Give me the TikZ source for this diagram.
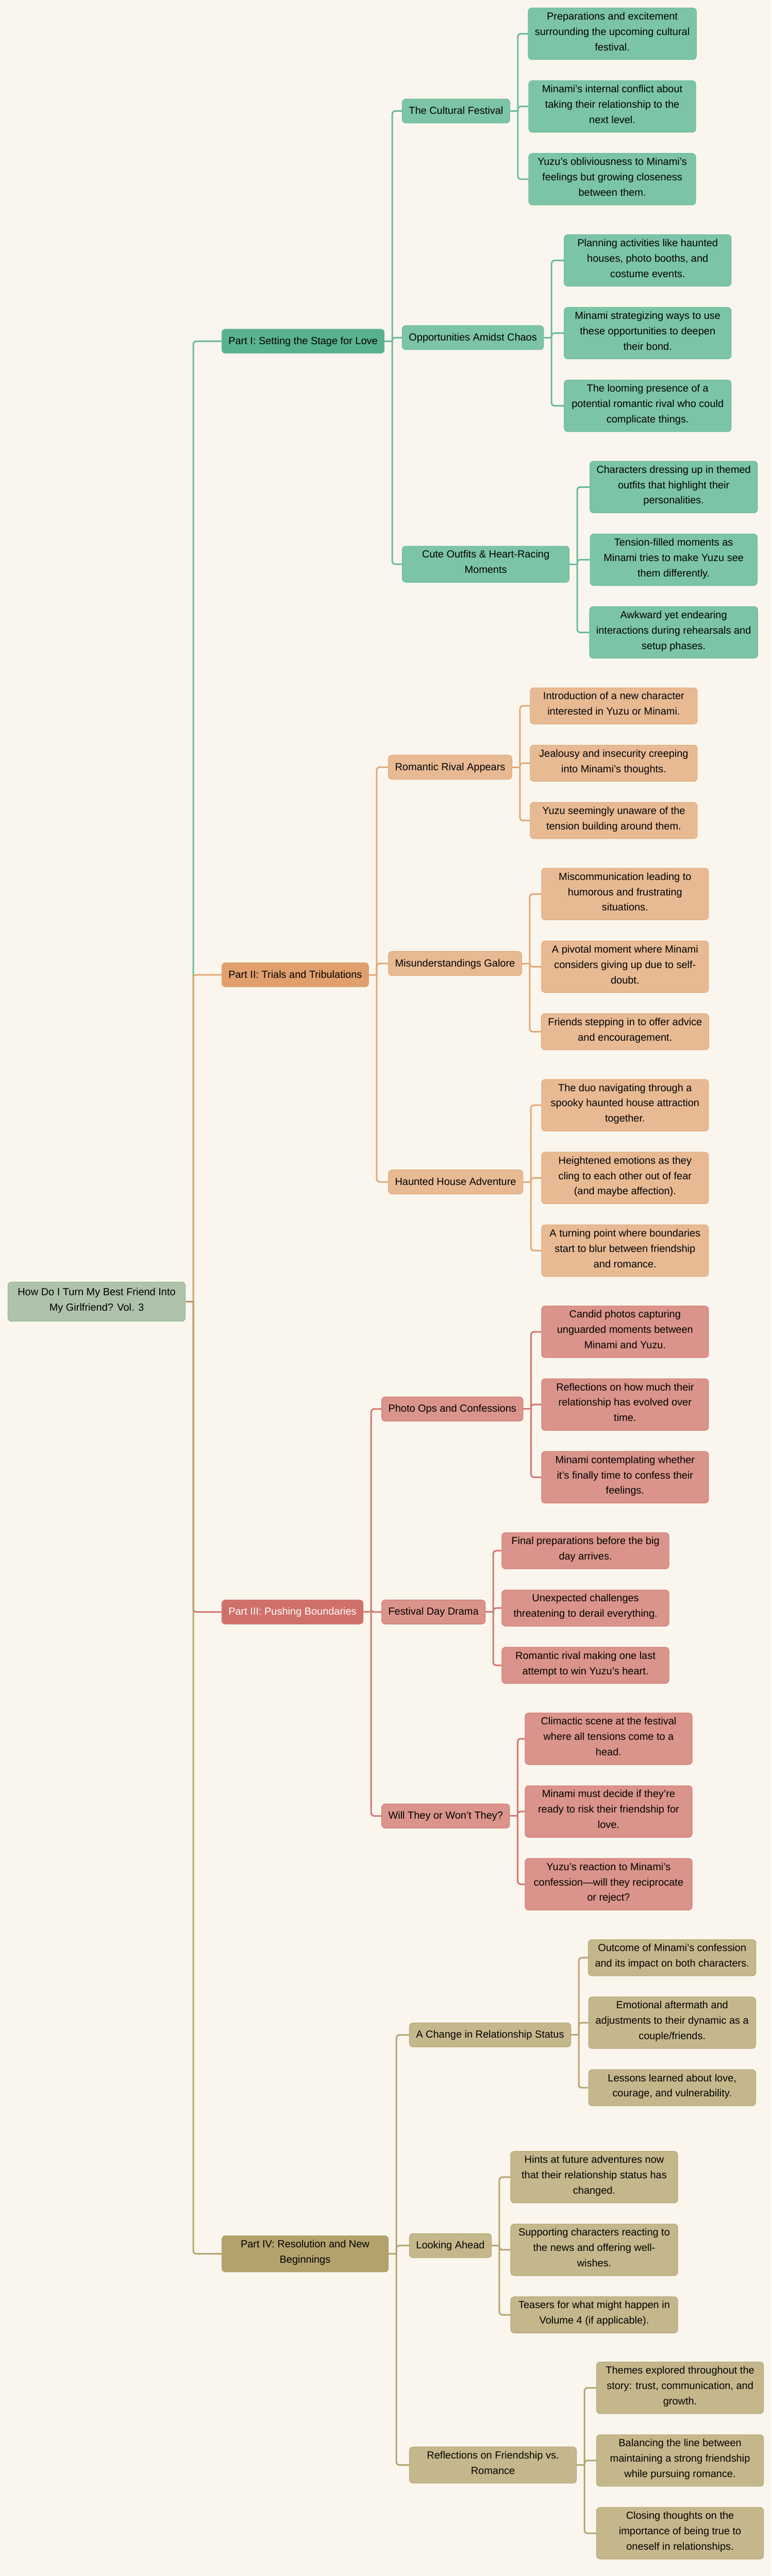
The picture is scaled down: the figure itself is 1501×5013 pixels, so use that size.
\documentclass[tikz,border=0pt]{standalone}
\usepackage{fontspec}
\setmainfont{Liberation Sans}
\usepackage{tikz}
\usetikzlibrary{positioning}
\usepackage{xcolor}

\definecolor{paper}{HTML}{FAF6EE}
\definecolor{rootFill}{HTML}{ADC3AA}
\definecolor{rootEdge}{HTML}{98B594}
\definecolor{rootLink}{HTML}{B8925F}
\definecolor{greenDark}{HTML}{58B28E}
\definecolor{greenLight}{HTML}{7CC4A7}
\definecolor{greenLine}{HTML}{6ABB97}
\definecolor{orangeDark}{HTML}{E09F6C}
\definecolor{orangeLight}{HTML}{E7BA94}
\definecolor{orangeLine}{HTML}{E3A875}
\definecolor{redDark}{HTML}{D0706A}
\definecolor{redLight}{HTML}{DA948B}
\definecolor{redLine}{HTML}{D4766F}
\definecolor{goldDark}{HTML}{B3A26C}
\definecolor{goldLight}{HTML}{C5B78C}
\definecolor{goldLine}{HTML}{B5A46F}

\begin{document}
\begin{tikzpicture}[
  x=0.5pt, y=-0.5pt,
  every node/.style={font=\fontsize{10}{15}\selectfont, align=center, rounded corners=3.5pt,
    inner xsep=6.5pt, inner ysep=4.25pt, line width=0.5pt,
    execute at begin node=\strut, execute at end node=\strut},
  root/.style={anchor=west, draw=rootEdge, fill=rootFill, minimum width=172.5pt, inner ysep=5.75pt},
  part/.style={anchor=west, draw=#1Line, fill=#1Dark},
  topic/.style={anchor=west, draw=#1Line, fill=#1Light},
  leaf/.style={draw=#1Line, fill=#1Light, minimum width=162.5pt},
  link/.style={draw=#1, line width=1.5pt, rounded corners=3pt}
  ]

\fill[paper] (0,0) rectangle (1501,5013);
\useasboundingbox (0,0) rectangle (1501,5013);

\node[root] (root) at (15,2533) {How Do I Turn My Best Friend Into\\My Girlfriend? Vol. 3};

% Part I
\node[part=green] (p1) at (431,664) {Part I: Setting the Stage for Love};
\node[topic=green] (cf) at (782,216) {The Cultural Festival};
\node[topic=green] (oc) at (782,657) {Opportunities Amidst Chaos};
\node[topic=green, minimum width=162.5pt] (co) at (782,1098) {Cute Outfits \& Heart-Racing\\Moments};

\node[leaf=green, anchor=north west] (cf1) at (1027,15) {Preparations and excitement\\surrounding the upcoming cultural\\festival.};
\node[leaf=green, below=20pt of cf1] (cf2) {Minami's internal conflict about\\taking their relationship to the\\next level.};
\node[leaf=green, below=20pt of cf2] (cf3) {Yuzu's obliviousness to Minami's\\feelings but growing closeness\\between them.};

\node[leaf=green, anchor=north west] (oc1) at (1097,456) {Planning activities like haunted\\houses, photo booths, and\\costume events.};
\node[leaf=green, below=20pt of oc1] (oc2) {Minami strategizing ways to use\\these opportunities to deepen\\their bond.};
\node[leaf=green, below=20pt of oc2] (oc3) {The looming presence of a\\potential romantic rival who could\\complicate things.};

\node[leaf=green, anchor=north west] (co1) at (1147,897) {Characters dressing up in themed\\outfits that highlight their\\personalities.};
\node[leaf=green, below=20pt of co1] (co2) {Tension-filled moments as\\Minami tries to make Yuzu see\\them differently.};
\node[leaf=green, below=20pt of co2] (co3) {Awkward yet endearing\\interactions during rehearsals and\\setup phases.};

% Part II
\node[part=orange] (p2) at (431,1897) {Part II: Trials and Tribulations};
\node[topic=orange] (rr) at (755,1493) {Romantic Rival Appears};
\node[topic=orange] (mg) at (755,1875) {Misunderstandings Galore};
\node[topic=orange] (hh) at (755,2300) {Haunted House Adventure};

\node[leaf=orange, anchor=north west] (rr1) at (1031,1338) {Introduction of a new character\\interested in Yuzu or Minami.};
\node[leaf=orange, below=20pt of rr1] (rr2) {Jealousy and insecurity creeping\\into Minami's thoughts.};
\node[leaf=orange, below=20pt of rr2] (rr3) {Yuzu seemingly unaware of the\\tension building around them.};

\node[leaf=orange, anchor=north west] (mg1) at (1053,1689) {Miscommunication leading to\\humorous and frustrating\\situations.};
\node[leaf=orange, below=20pt of mg1] (mg2) {A pivotal moment where Minami\\considers giving up due to self-\\doubt.};
\node[leaf=orange, below=20pt of mg2] (mg3) {Friends stepping in to offer advice\\and encouragement.};

\node[leaf=orange, anchor=north west] (hh1) at (1053,2100) {The duo navigating through a\\spooky haunted house attraction\\together.};
\node[leaf=orange, below=20pt of hh1] (hh2) {Heightened emotions as they\\cling to each other out of fear\\(and maybe affection).};
\node[leaf=orange, below=20pt of hh2] (hh3) {A turning point where boundaries\\start to blur between friendship\\and romance.};

% Part III
\node[part=red, text=white] (p3) at (431,3137) {Part III: Pushing Boundaries};
\node[topic=red] (po) at (742,2742) {Photo Ops and Confessions};
\node[topic=red] (fd) at (742,3137) {Festival Day Drama};
\node[topic=red] (wt) at (742,3534) {Will They or Won't They?};

\node[leaf=red, anchor=north west] (po1) at (1053,2541) {Candid photos capturing\\unguarded moments between\\Minami and Yuzu.};
\node[leaf=red, below=20pt of po1] (po2) {Reflections on how much their\\relationship has evolved over\\time.};
\node[leaf=red, below=20pt of po2] (po3) {Minami contemplating whether\\it's finally time to confess their\\feelings.};

\node[leaf=red, anchor=north west] (fd1) at (976,2982) {Final preparations before the big\\day arrives.};
\node[leaf=red, below=20pt of fd1] (fd2) {Unexpected challenges\\threatening to derail everything.};
\node[leaf=red, below=20pt of fd2] (fd3) {Romantic rival making one last\\attempt to win Yuzu's heart.};

\node[leaf=red, anchor=north west] (wt1) at (1021,3333) {Climactic scene at the festival\\where all tensions come to a\\head.};
\node[leaf=red, below=20pt of wt1] (wt2) {Minami must decide if they're\\ready to risk their friendship for\\love.};
\node[leaf=red, below=20pt of wt2] (wt3) {Yuzu's reaction to Minami's\\confession---will they reciprocate\\or reject?};

% Part IV
\node[part=gold, minimum width=162pt] (p4) at (431,4386) {Part IV: Resolution and New\\Beginnings};
\node[topic=gold] (cr) at (796,3960) {A Change in Relationship Status};
\node[topic=gold] (la) at (796,4370) {Looking Ahead};
\node[topic=gold, minimum width=162.5pt] (rf) at (796,4797) {Reflections on Friendship vs.\\Romance};

\node[leaf=gold, anchor=north west] (cr1) at (1144,3774) {Outcome of Minami's confession\\and its impact on both characters.};
\node[leaf=gold, below=20pt of cr1] (cr2) {Emotional aftermath and\\adjustments to their dynamic as a\\couple/friends.};
\node[leaf=gold, below=20pt of cr2] (cr3) {Lessons learned about love,\\courage, and vulnerability.};

\node[leaf=gold, anchor=north west] (la1) at (993,4186) {Hints at future adventures now\\that their relationship status has\\changed.};
\node[leaf=gold, below=20pt of la1] (la2) {Supporting characters reacting to\\the news and offering well-\\wishes.};
\node[leaf=gold, below=20pt of la2] (la3) {Teasers for what might happen in\\Volume 4 (if applicable).};

\node[leaf=gold, anchor=north west] (rf1) at (1160,4596) {Themes explored throughout the\\story: trust, communication, and\\growth.};
\node[leaf=gold, below=20pt of rf1] (rf2) {Balancing the line between\\maintaining a strong friendship\\while pursuing romance.};
\node[leaf=gold, below=20pt of rf2] (rf3) {Closing thoughts on the\\importance of being true to\\oneself in relationships.};

% links from the root
\coordinate (rs) at ([xshift=7.5pt]root.east);
\draw[link=greenLine] (rs) |- (p1.west);
\draw[link=orangeLine] (rs) |- (p2.west);
\draw[link=redLine] (rs) |- (p3.west);
\draw[link=goldLine] (rs) |- (p4.west);
\draw[link=rootLink] (root.east) -- (rs);

% links of part I
\draw[link=greenLine] (p1.east) -- ++(7.5pt,0) coordinate (p1s);
\draw[link=greenLine] (p1s) |- (cf.west);
\draw[link=greenLine] (p1s) |- (oc.west);
\draw[link=greenLine] (p1s) |- (co.west);
\draw[link=greenLine] (cf.east) -- ++(7.5pt,0) coordinate (cfs);
\draw[link=greenLine] (cfs) |- (cf1.west);
\draw[link=greenLine] (cfs) |- (cf2.west);
\draw[link=greenLine] (cfs) |- (cf3.west);
\draw[link=greenLine] (oc.east) -- ++(7.5pt,0) coordinate (ocs);
\draw[link=greenLine] (ocs) |- (oc1.west);
\draw[link=greenLine] (ocs) |- (oc2.west);
\draw[link=greenLine] (ocs) |- (oc3.west);
\draw[link=greenLine] (co.east) -- ++(7.5pt,0) coordinate (cos);
\draw[link=greenLine] (cos) |- (co1.west);
\draw[link=greenLine] (cos) |- (co2.west);
\draw[link=greenLine] (cos) |- (co3.west);

% links of part II
\draw[link=orangeLine] (p2.east) -- ++(7.5pt,0) coordinate (p2s);
\draw[link=orangeLine] (p2s) |- (rr.west);
\draw[link=orangeLine] (p2s) |- (mg.west);
\draw[link=orangeLine] (p2s) |- (hh.west);
\draw[link=orangeLine] (rr.east) -- ++(7.5pt,0) coordinate (rrs);
\draw[link=orangeLine] (rrs) |- (rr1.west);
\draw[link=orangeLine] (rrs) |- (rr2.west);
\draw[link=orangeLine] (rrs) |- (rr3.west);
\draw[link=orangeLine] (mg.east) -- ++(7.5pt,0) coordinate (mgs);
\draw[link=orangeLine] (mgs) |- (mg1.west);
\draw[link=orangeLine] (mgs) |- (mg2.west);
\draw[link=orangeLine] (mgs) |- (mg3.west);
\draw[link=orangeLine] (hh.east) -- ++(7.5pt,0) coordinate (hhs);
\draw[link=orangeLine] (hhs) |- (hh1.west);
\draw[link=orangeLine] (hhs) |- (hh2.west);
\draw[link=orangeLine] (hhs) |- (hh3.west);

% links of part III
\draw[link=redLine] (p3.east) -- ++(7.5pt,0) coordinate (p3s);
\draw[link=redLine] (p3s) |- (po.west);
\draw[link=redLine] (p3s) |- (fd.west);
\draw[link=redLine] (p3s) |- (wt.west);
\draw[link=redLine] (po.east) -- ++(7.5pt,0) coordinate (pos);
\draw[link=redLine] (pos) |- (po1.west);
\draw[link=redLine] (pos) |- (po2.west);
\draw[link=redLine] (pos) |- (po3.west);
\draw[link=redLine] (fd.east) -- ++(7.5pt,0) coordinate (fds);
\draw[link=redLine] (fds) |- (fd1.west);
\draw[link=redLine] (fds) |- (fd2.west);
\draw[link=redLine] (fds) |- (fd3.west);
\draw[link=redLine] (wt.east) -- ++(7.5pt,0) coordinate (wts);
\draw[link=redLine] (wts) |- (wt1.west);
\draw[link=redLine] (wts) |- (wt2.west);
\draw[link=redLine] (wts) |- (wt3.west);

% links of part IV
\draw[link=goldLine] (p4.east) -- ++(7.5pt,0) coordinate (p4s);
\draw[link=goldLine] (p4s) |- (cr.west);
\draw[link=goldLine] (p4s) |- (la.west);
\draw[link=goldLine] (p4s) |- (rf.west);
\draw[link=goldLine] (cr.east) -- ++(7.5pt,0) coordinate (crs);
\draw[link=goldLine] (crs) |- (cr1.west);
\draw[link=goldLine] (crs) |- (cr2.west);
\draw[link=goldLine] (crs) |- (cr3.west);
\draw[link=goldLine] (la.east) -- ++(7.5pt,0) coordinate (las);
\draw[link=goldLine] (las) |- (la1.west);
\draw[link=goldLine] (las) |- (la2.west);
\draw[link=goldLine] (las) |- (la3.west);
\draw[link=goldLine] (rf.east) -- ++(7.5pt,0) coordinate (rfs);
\draw[link=goldLine] (rfs) |- (rf1.west);
\draw[link=goldLine] (rfs) |- (rf2.west);
\draw[link=goldLine] (rfs) |- (rf3.west);

\end{tikzpicture}
\end{document}
